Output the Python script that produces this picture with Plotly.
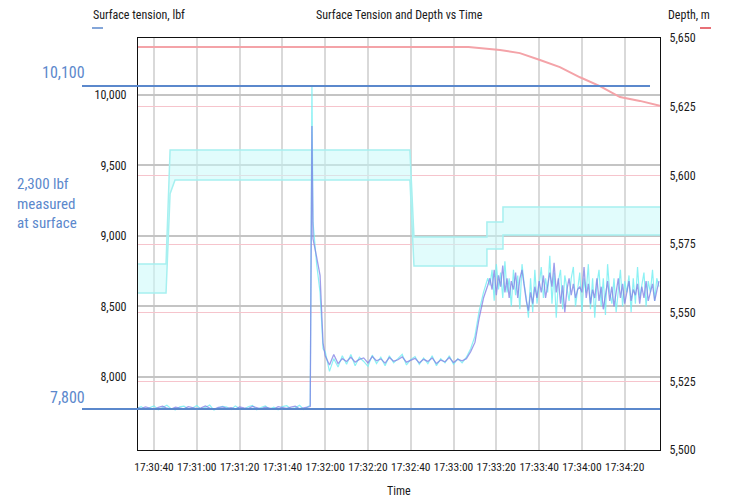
import pandas as pd
import plotly.graph_objects as go

# ---------------- data ----------------
base = pd.Timestamp("2024-01-01 17:30:00")

# tension samples (seconds after 17:30:00)
seg_a_t = list(range(32, 113, 2))
seg_a_blue = [7782, 7775, 7788, 7779, 7770, 7785, 7792, 7778, 7772, 7786, 7780, 7774, 7790, 7783,
              7776, 7781, 7795, 7779, 7771, 7784, 7788, 7777, 7783, 7773, 7787, 7780, 7776, 7791,
              7782, 7774, 7785, 7779, 7772, 7789, 7781, 7777, 7786, 7793, 7775, 7780, 7783]
seg_a_cyan = [7778, 7790, 7770, 7785, 7795, 7768, 7782, 7799, 7775, 7766, 7788, 7793, 7772, 7780,
              7797, 7770, 7784, 7801, 7765, 7779, 7792, 7786, 7769, 7795, 7777, 7771, 7789, 7798,
              7767, 7783, 7794, 7772, 7786, 7768, 7790, 7796, 7774, 7781, 7799, 7770, 7787]

seg_b_t = [113, 113.8, 114.3, 116, 117.6, 119]
seg_b_blue = [7790, 9780, 8980, 8850, 8720, 8240]
seg_b_cyan = [7800, 10060, 9100, 8800, 8600, 8200]

seg_c_t = list(range(120, 187, 2))
seg_c_blue = [8150, 8085, 8160, 8095, 8130, 8110, 8140, 8105, 8125, 8135, 8100, 8145, 8115, 8128,
              8098, 8138, 8112, 8122, 8142, 8105, 8118, 8132, 8100, 8125, 8110, 8135, 8095, 8120,
              8108, 8138, 8102, 8125, 8115, 8130]
seg_c_cyan = [8180, 8040, 8130, 8070, 8150, 8090, 8160, 8080, 8140, 8110, 8075, 8155, 8095, 8140,
              8080, 8150, 8100, 8130, 8160, 8085, 8125, 8145, 8090, 8135, 8095, 8150, 8080, 8130,
              8100, 8150, 8090, 8130, 8100, 8140]

seg_d_t = [188, 190, 192, 194, 196]
seg_d_blue = [8180, 8245, 8420, 8560, 8650]
seg_d_cyan = [8200, 8290, 8470, 8600, 8700]

seg_e_t = list(range(197, 277))
seg_e_blue = [8700, 8620, 8760, 8580, 8720, 8640, 8790, 8600, 8700, 8560,
              8680, 8620, 8740, 8560, 8700, 8760, 8650, 8540, 8470, 8600,
              8520, 8640, 8560, 8680, 8600, 8720, 8560, 8660, 8740, 8640,
              8810, 8600, 8700, 8520, 8650, 8460, 8620, 8700, 8580, 8660,
              8560, 8620, 8640, 8600, 8780, 8560, 8660, 8520, 8620, 8560,
              8700, 8540, 8640, 8480, 8600, 8680, 8540, 8640, 8500, 8620,
              8700, 8560, 8660, 8520, 8600, 8680, 8540, 8620, 8580, 8660,
              8520, 8640, 8560, 8680, 8540, 8600, 8660, 8540, 8620, 8680]
seg_e_cyan = [8650, 8760, 8540, 8800, 8620, 8740, 8560, 8820, 8600, 8700,
              8500, 8760, 8580, 8720, 8480, 8800, 8660, 8560, 8420, 8700,
              8460, 8760, 8520, 8640, 8780, 8560, 8700, 8600, 8860, 8520,
              8740, 8420, 8680, 8760, 8480, 8720, 8620, 8540, 8700, 8780,
              8500, 8640, 8740, 8460, 8700, 8600, 8800, 8480, 8700, 8420,
              8660, 8760, 8500, 8700, 8440, 8800, 8600, 8520, 8700, 8460,
              8640, 8760, 8500, 8680, 8600, 8720, 8460, 8700, 8520, 8780,
              8560, 8640, 8740, 8500, 8680, 8600, 8760, 8540, 8700, 8640]

# cyan step band (envelope)
band_t = [32.5, 45.6, 47.5, 49.8, 159.6, 161.5, 195.6, 195.6, 203.1, 203.1, 276.5]
band_upper = [8801, 8801, 9610, 9610, 9610, 8993, 8993, 9099, 9099, 9206, 9206]
band_lower = [8596, 8596, 9300, 9397, 9397, 8787, 8787, 8908, 8908, 9007, 9007]

# depth (m)
depth_t = [32.5, 187, 201.7, 211, 220.4, 229.7, 239.1, 248.4, 257.8, 267.1, 276.5]
depth_m = [5646.7, 5646.7, 5645.6, 5644.5, 5642.0, 5639.4, 5635.7, 5632.5, 5628.5, 5627.1, 5625.3]

# reference levels drawn as annotation lines (lbf)
ref_levels = [10064, 7773]
ref_labels = ["10,100", "7,800"]

x_range_s = [32.5, 276.5]
x_tick_s = [40, 60, 80, 100, 120, 140, 160, 180, 200, 220, 240, 260]
y_left_range = [7482, 10404]
y_left_ticks = [8000, 8500, 9000, 9500, 10000]
y_right_range = [5500, 5650]
y_right_ticks = [5500, 5525, 5550, 5575, 5600, 5625, 5650]

# ---------------- build ----------------
def ts(secs):
    return [base + pd.Timedelta(seconds=s) for s in secs]

t_all = seg_a_t + seg_b_t + seg_c_t + seg_d_t + seg_e_t
blue_all = seg_a_blue + seg_b_blue + seg_c_blue + seg_d_blue + seg_e_blue
cyan_all = seg_a_cyan + seg_b_cyan + seg_c_cyan + seg_d_cyan + seg_e_cyan

FONT = "Roboto Condensed, Liberation Sans Narrow, Roboto, sans-serif"
ANN_BLUE = "#5b88cc"

fig = go.Figure()

fig.add_trace(go.Scatter(x=ts(band_t), y=band_lower, mode="lines",
                         line=dict(color="#a6f0f0", width=1.5), hoverinfo="skip", showlegend=False))
fig.add_trace(go.Scatter(x=ts(band_t), y=band_upper, mode="lines", fill="tonexty",
                         fillcolor="rgba(200,250,250,0.55)",
                         line=dict(color="#a6f0f0", width=1.5), hoverinfo="skip", showlegend=False))

fig.add_trace(go.Scatter(x=ts(depth_t), y=depth_m, mode="lines", yaxis="y2",
                         line=dict(color="#f4a3a8", width=2), showlegend=False))

fig.add_trace(go.Scatter(x=ts(t_all), y=cyan_all, mode="lines",
                         line=dict(color="rgba(120,238,242,0.85)", width=1.2), showlegend=False))
fig.add_trace(go.Scatter(x=ts(t_all), y=blue_all, mode="lines",
                         line=dict(color="rgba(125,125,228,0.75)", width=1.3), showlegend=False))

tick_vals = ts(x_tick_s)
fig.update_layout(
    width=729, height=498, autosize=False,
    margin=dict(l=138, r=69, t=38, b=48),
    paper_bgcolor="white", plot_bgcolor="white",
    font=dict(family=FONT, size=12, color="#1a1a1a"),
    xaxis=dict(range=ts(x_range_s), tickvals=tick_vals,
               ticktext=[v.strftime("%H:%M:%S") for v in tick_vals],
               showgrid=True, gridcolor="#d9d9d9", gridwidth=2,
               showline=True, linecolor="#111", linewidth=1.2, mirror=True,
               ticks="", tickfont=dict(size=11.5), ticklabelstandoff=6, zeroline=False),
    yaxis=dict(range=y_left_range, tickvals=y_left_ticks, tickformat=",",
               showgrid=True, gridcolor="#c4c4c4", gridwidth=2,
               showline=True, linecolor="#111", linewidth=1.2,
               ticks="", ticklabelstandoff=8, zeroline=False),
    yaxis2=dict(range=y_right_range, tickvals=y_right_ticks, tickformat=",",
                overlaying="y", side="right",
                showgrid=True, gridcolor="#f6c4cc", gridwidth=1,
                showline=True, linecolor="#111", linewidth=1.2,
                ticks="", ticklabelstandoff=6, zeroline=False),
)

def px_x(p):
    return (p - 138) / 522.0

def px_y(p):
    return (450 - p) / 412.0

# reference lines
fig.add_shape(type="line", xref="paper", yref="y", x0=px_x(82), x1=px_x(650),
              y0=ref_levels[0], y1=ref_levels[0], line=dict(color=ANN_BLUE, width=2), layer="above")
fig.add_shape(type="line", xref="paper", yref="y", x0=px_x(82), x1=1.0,
              y0=ref_levels[1], y1=ref_levels[1], line=dict(color=ANN_BLUE, width=2), layer="above")

# legend dashes
fig.add_shape(type="line", xref="paper", yref="paper", x0=px_x(92), x1=px_x(103),
              y0=px_y(28), y1=px_y(28), line=dict(color="#5b88cc", width=1.5))
fig.add_shape(type="line", xref="paper", yref="paper", x0=px_x(700), x1=px_x(711),
              y0=px_y(28), y1=px_y(28), line=dict(color="#e0404a", width=1.5))

def ann(text, x, y, xanchor="center", size=12, color="#1a1a1a", align="center"):
    fig.add_annotation(text=text, xref="paper", yref="paper", x=x, y=y, xanchor=xanchor,
                       yanchor="middle", showarrow=False, align=align,
                       font=dict(family=FONT, size=size, color=color))

ann("Surface Tension and Depth vs Time", 0.5, px_y(15))
ann("Surface tension, lbf", px_x(91), px_y(15), xanchor="left")
ann("Depth, m", px_x(712), px_y(15), xanchor="right")
ann("Time", 0.5, px_y(491))

ann(ref_labels[0], px_x(87), px_y(73), xanchor="right", size=16, color=ANN_BLUE)
ann(ref_labels[1], px_x(87), px_y(397), xanchor="right", size=16, color=ANN_BLUE)
ann("2,300 lbf<br>measured<br>at surface", px_x(15), px_y(203), xanchor="left", size=15,
    color=ANN_BLUE, align="left")

fig.write_html("out.html", config={"displayModeBar": False},
               post_script="document.body.style.margin='0';")
